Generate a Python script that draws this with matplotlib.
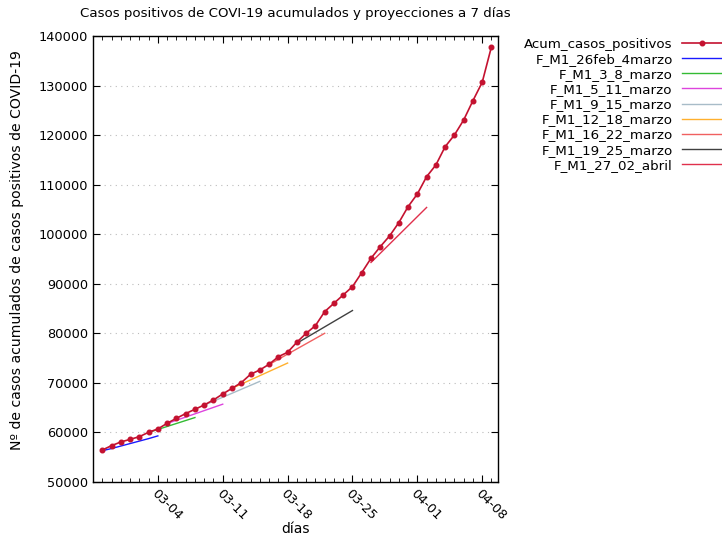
import numpy as np
import pandas as pd
import matplotlib
matplotlib.use("Agg")
import matplotlib.pyplot as plt
import matplotlib.dates as mdates

# Accumulated positive cases, 2020-02-27 .. 2020-04-09
acum_casos = [56450, 57330, 58070, 58600, 59140, 60030, 60700, 61840, 62850,
              63800, 64670, 65540, 66550, 67760, 68900, 70040, 71730, 72600,
              73750, 75280, 76170, 78200, 80000, 81540, 84370, 86060, 87740,
              89420, 92240, 95140, 97490, 99640, 102330, 105560, 108120,
              111610, 113970, 117660, 120020, 123050, 126950, 130660, 137840]
fechas = pd.date_range("2020-02-27", periods=len(acum_casos), freq="D")

# 7-day projections: (label, start date, values)
proyecciones = [
    ("F_M1_26feb_4marzo", "2020-02-27", [56300, 56750, 57250, 57750, 58250, 58750, 59300]),
    ("F_M1_3_8_marzo", "2020-03-03", [60000, 60600, 61200, 61800, 62400, 63000]),
    ("F_M1_5_11_marzo", "2020-03-05", [61800, 62450, 63100, 63750, 64400, 65050, 65700]),
    ("F_M1_9_15_marzo", "2020-03-09", [65500, 66300, 67100, 67900, 68700, 69500, 70300]),
    ("F_M1_12_18_marzo", "2020-03-12", [68900, 69750, 70600, 71450, 72300, 73150, 74000]),
    ("F_M1_16_22_marzo", "2020-03-16", [73700, 74750, 75800, 76850, 77900, 78950, 80000]),
    ("F_M1_19_25_marzo", "2020-03-19", [78000, 79100, 80200, 81300, 82400, 83500, 84600]),
    ("F_M1_27_02_abril", "2020-03-27", [94300, 96150, 98000, 99850, 101700, 103550, 105400]),
]
colores = ["#1a1aff", "#33bb33", "#dd44dd", "#a8bcc8", "#ffb02e",
           "#f06060", "#404040", "#e0304c"]

y_ticks = list(range(50000, 140001, 10000))
x_ticks = ["2020-03-04", "2020-03-11", "2020-03-18", "2020-03-25",
           "2020-04-01", "2020-04-08"]

plt.rcParams["font.family"] = ["DejaVu Sans"]
fig = plt.figure(figsize=(7.22, 5.39), dpi=100)
ax = fig.add_axes([0.1288, 0.1058, 0.5610, 0.8274])

ax.plot(fechas, acum_casos, color="#c41230", linewidth=1.2, marker="o",
        markersize=3.3, label="Acum_casos_positivos", zorder=5)
for (nombre, inicio, vals), c in zip(proyecciones, colores):
    d = pd.date_range(inicio, periods=len(vals), freq="D")
    ax.plot(d, vals, color=c, linewidth=1.0, label=nombre, zorder=4)

ax.set_xlim(pd.Timestamp("2020-02-26"), pd.Timestamp("2020-04-09 17:00"))
ax.set_ylim(50000, 140000)
ax.set_yticks(y_ticks)
ax.set_xticks(pd.to_datetime(x_ticks))
ax.xaxis.set_major_formatter(mdates.DateFormatter("%m-%d"))
ax.xaxis.set_minor_locator(mdates.DayLocator())
ax.tick_params(axis="both", which="both", direction="in", top=True, right=True,
               labelsize=9.3, colors="black")
ax.tick_params(which="major", length=5)
ax.tick_params(which="minor", length=3)
for lab in ax.get_xticklabels():
    lab.set_rotation(-45)
    lab.set_ha("left")
    lab.set_va("top")
    lab.set_rotation_mode("anchor")
ax.grid(axis="y", linestyle=(0, (1, 4)), color="#bbbbbb", linewidth=0.8)
for s in ax.spines.values():
    s.set_linewidth(1.0)

ax.set_title("Casos positivos de COVI-19 acumulados y proyecciones a 7 días",
             fontsize=9.6, pad=14)
ax.set_xlabel("días", fontsize=10)
ax.xaxis.set_label_coords(0.5, -0.09)
ax.set_ylabel("Nº de casos acumulados de casos positivos de COVID-19", fontsize=10.1)
ax.yaxis.set_label_coords(-0.17, 0.52)

ax.legend(loc="upper right", bbox_to_anchor=(1.0, 0.93),
          bbox_transform=fig.transFigure, frameon=False,
          markerfirst=False, fontsize=9.6, handlelength=3.0, handletextpad=0.7,
          labelspacing=0.16, borderaxespad=0.0, borderpad=0.0)

fig.savefig("out.png", dpi=100)
